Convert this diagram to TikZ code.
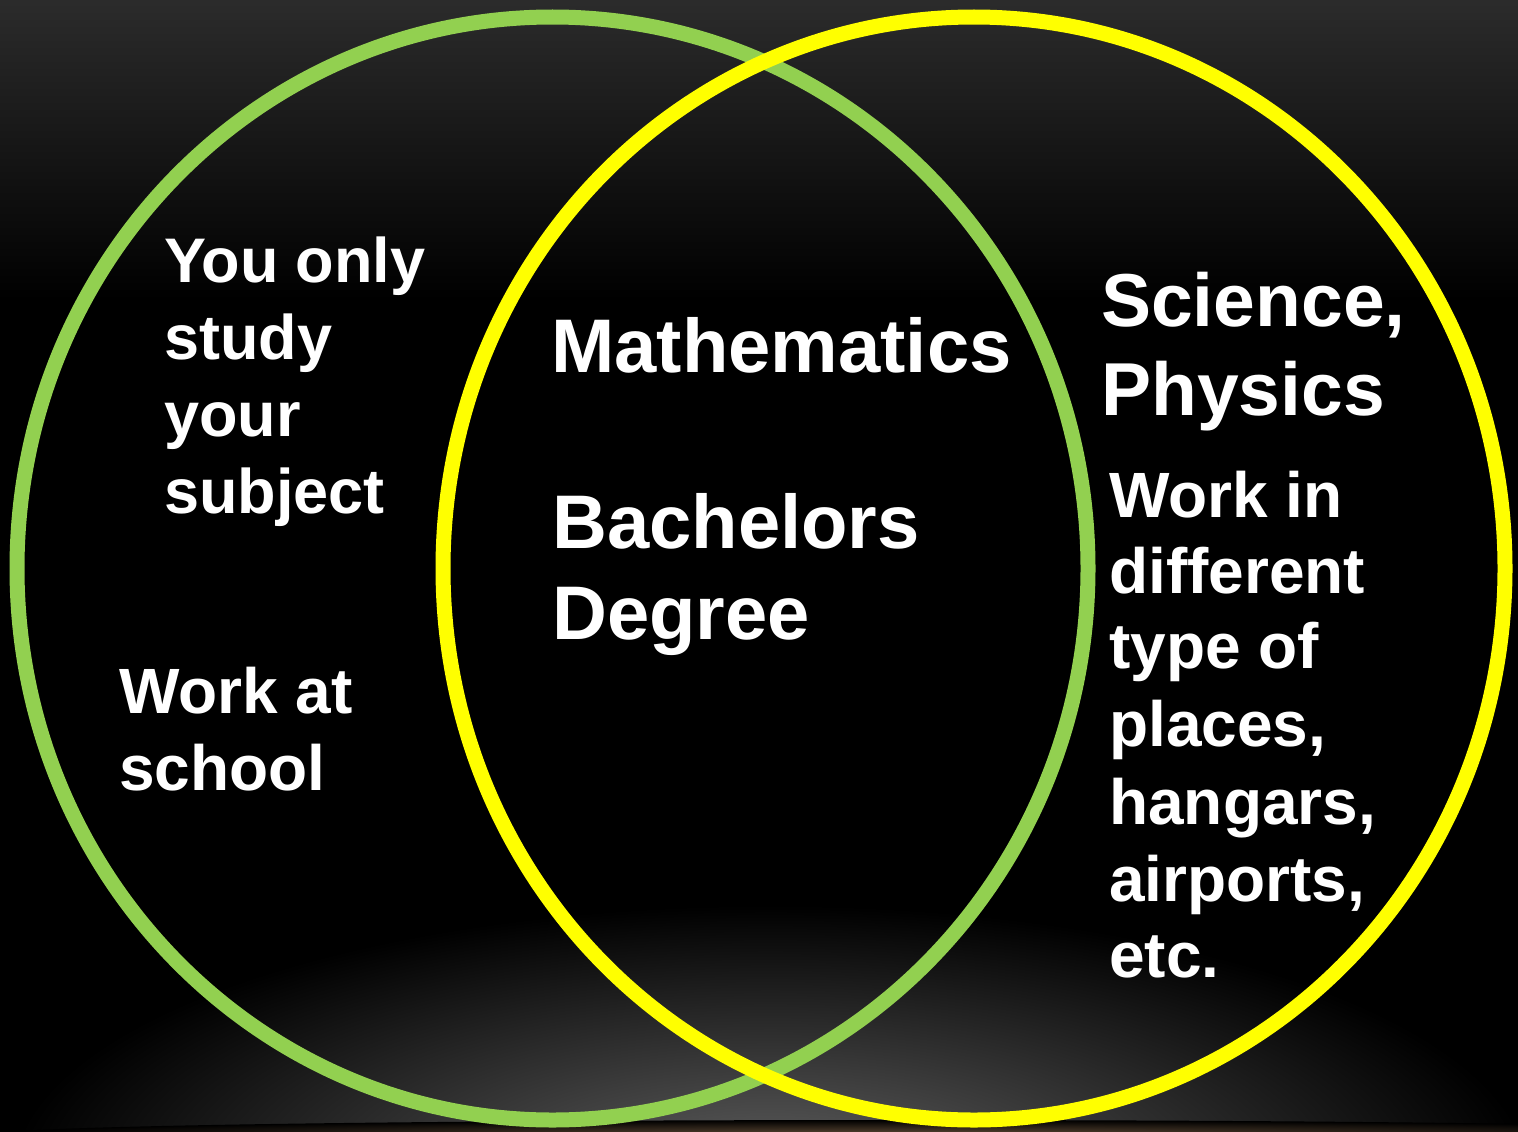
\documentclass[tikz,border=0pt]{standalone}
\usepackage{fontspec}
\setmainfont{Liberation Sans}
\definecolor{vgreen}{HTML}{92D050}
\definecolor{vyellow}{HTML}{FFFF00}
\definecolor{glowbrown}{HTML}{5A4632}
\tikzset{
  ring/.style={line width=15pt},
  txt/.style={text=white, anchor=base west, inner sep=0pt, font=\bfseries},
  small/.style={txt, font=\fontsize{63}{77}\bfseries\selectfont},
  mid/.style={txt, font=\fontsize{64}{77}\bfseries\selectfont},
  big/.style={txt, font=\fontsize{75}{88}\bfseries\selectfont},
}
\begin{document}
\begin{tikzpicture}[x=1pt,y=-1pt]
\useasboundingbox (0,0) rectangle (1518,1132);
% background
\fill[black] (0,0) rectangle (1518,1132);
\begin{scope}
\clip (0,0) rectangle (1518,1132);
\shade[top color=black!83, bottom color=black] (0,0) rectangle (1518,300);
\shade[inner color=black!62, outer color=black] (770,1175) ellipse [x radius=760, y radius=270];
\shade[inner color=glowbrown, outer color=black] (900,1134) ellipse [x radius=900, y radius=14];
\end{scope}
% circles
\coordinate (gc) at (552.5,568.5);
\coordinate (yc) at (974,568.5);
\draw[ring, vgreen] (gc) ellipse [x radius=535.5, y radius=551.5];
\draw[ring, vyellow] (yc) ellipse [x radius=531, y radius=551.5];
% left texts
\node[small] (y1) at (164,282) {You only};
\node[small] (y2) at (164,359) {study};
\node[small] (y3) at (164,436) {your};
\node[small] (y4) at (164,513) {subject};
\node[mid] (w1) at (119,713) {Work at};
\node[mid] (w2) at (119,790) {school};
% middle texts
\node[big, font=\fontsize{76}{88}\bfseries\selectfont] (m1) at (551,372) {Mathematics};
\node[big, font=\fontsize{76}{88}\bfseries\selectfont] (b1) at (552,548) {Bachelors};
\node[big, font=\fontsize{76}{88}\bfseries\selectfont] (b2) at (552,639) {Degree};
% right texts
\node[big] (s1) at (1101,326) {Science,};
\node[big] (s2) at (1101,415) {Physics};
\node[mid] (r1) at (1109,517) {Work in};
\node[mid] (r2) at (1109,593) {different};
\node[mid] (r3) at (1109,668) {type of};
\node[mid] (r4) at (1109,746) {places,};
\node[mid] (r5) at (1109,824) {hangars,};
\node[mid] (r6) at (1109,901) {airports,};
\node[mid] (r7) at (1109,977) {etc.};
\end{tikzpicture}
\end{document}
